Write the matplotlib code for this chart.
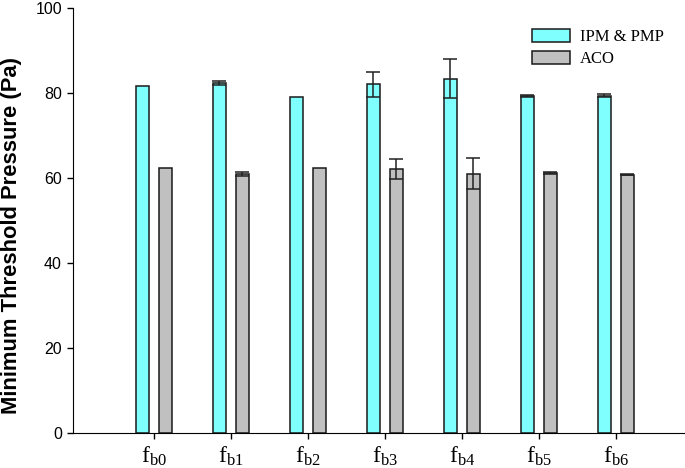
import numpy as np
import matplotlib
matplotlib.use("Agg")
import matplotlib.pyplot as plt

categories = ["b0", "b1", "b2", "b3", "b4", "b5", "b6"]
ipm_pmp = [81.6, 82.3, 79.1, 82.0, 83.3, 79.3, 79.4]
ipm_pmp_err = [0.0, 0.5, 0.0, 3.0, 4.6, 0.3, 0.3]
aco = [62.3, 60.9, 62.3, 62.1, 61.0, 61.2, 60.8]
aco_err = [0.0, 0.4, 0.0, 2.3, 3.7, 0.2, 0.2]
y_ticks = [0, 20, 40, 60, 80, 100]


def draw_errors(ax, xpos, values, errors):
    # only bars that have a spread get an error bar
    for xi, v, e in zip(xpos, values, errors):
        if e > 0:
            ax.errorbar(xi, v, yerr=e, fmt="none", ecolor="#222222",
                        elinewidth=1.1, capsize=4.7, capthick=1.1, zorder=3)


def main():
    fig = plt.figure(figsize=(6.85, 4.68), dpi=100)
    ax = fig.add_axes([0.1066, 0.0748, 0.8934, 0.9082])

    x = np.arange(len(categories))
    width = 0.17

    ax.bar(x - 0.15, ipm_pmp, width, color="#80FFFF",
           edgecolor="#1a1a1a", linewidth=1.1, label="IPM & PMP")
    ax.bar(x + 0.15, aco, width, color="#C0C0C0",
           edgecolor="#1a1a1a", linewidth=1.1, label="ACO")
    draw_errors(ax, x - 0.15, ipm_pmp, ipm_pmp_err)
    draw_errors(ax, x + 0.15, aco, aco_err)

    ax.set_xlim(-1.05, 6.9)
    ax.set_ylim(0, 100)
    ax.set_yticks(y_ticks)
    ax.set_yticklabels([str(t) for t in y_ticks], fontfamily="Liberation Sans",
                       fontsize=11.5)
    ax.set_xticks(x)
    ax.set_xticklabels([r"$\mathregular{f_{%s}}$" % c for c in categories],
                       fontfamily="Liberation Serif", fontsize=17)
    ax.tick_params(direction="out", length=4.5, width=1)
    ax.tick_params(axis="x", pad=4)
    ax.spines["top"].set_visible(False)
    ax.spines["right"].set_visible(False)

    ax.set_ylabel("Minimum Threshold Pressure (Pa)", fontfamily="Liberation Sans",
                  fontweight="bold", fontsize=15.8)
    ax.yaxis.set_label_coords(-0.101, 0.4635)
    ax.yaxis.label.set_verticalalignment("center")

    ax.legend(loc="upper left", bbox_to_anchor=(0.75, 0.95), frameon=False,
              prop={"family": "Liberation Serif", "size": 12}, borderpad=0,
              borderaxespad=0, handlelength=2.3, handleheight=0.8,
              handletextpad=0.6, labelspacing=0.35)

    fig.savefig("out.png", dpi=100)


if __name__ == "__main__":
    main()
